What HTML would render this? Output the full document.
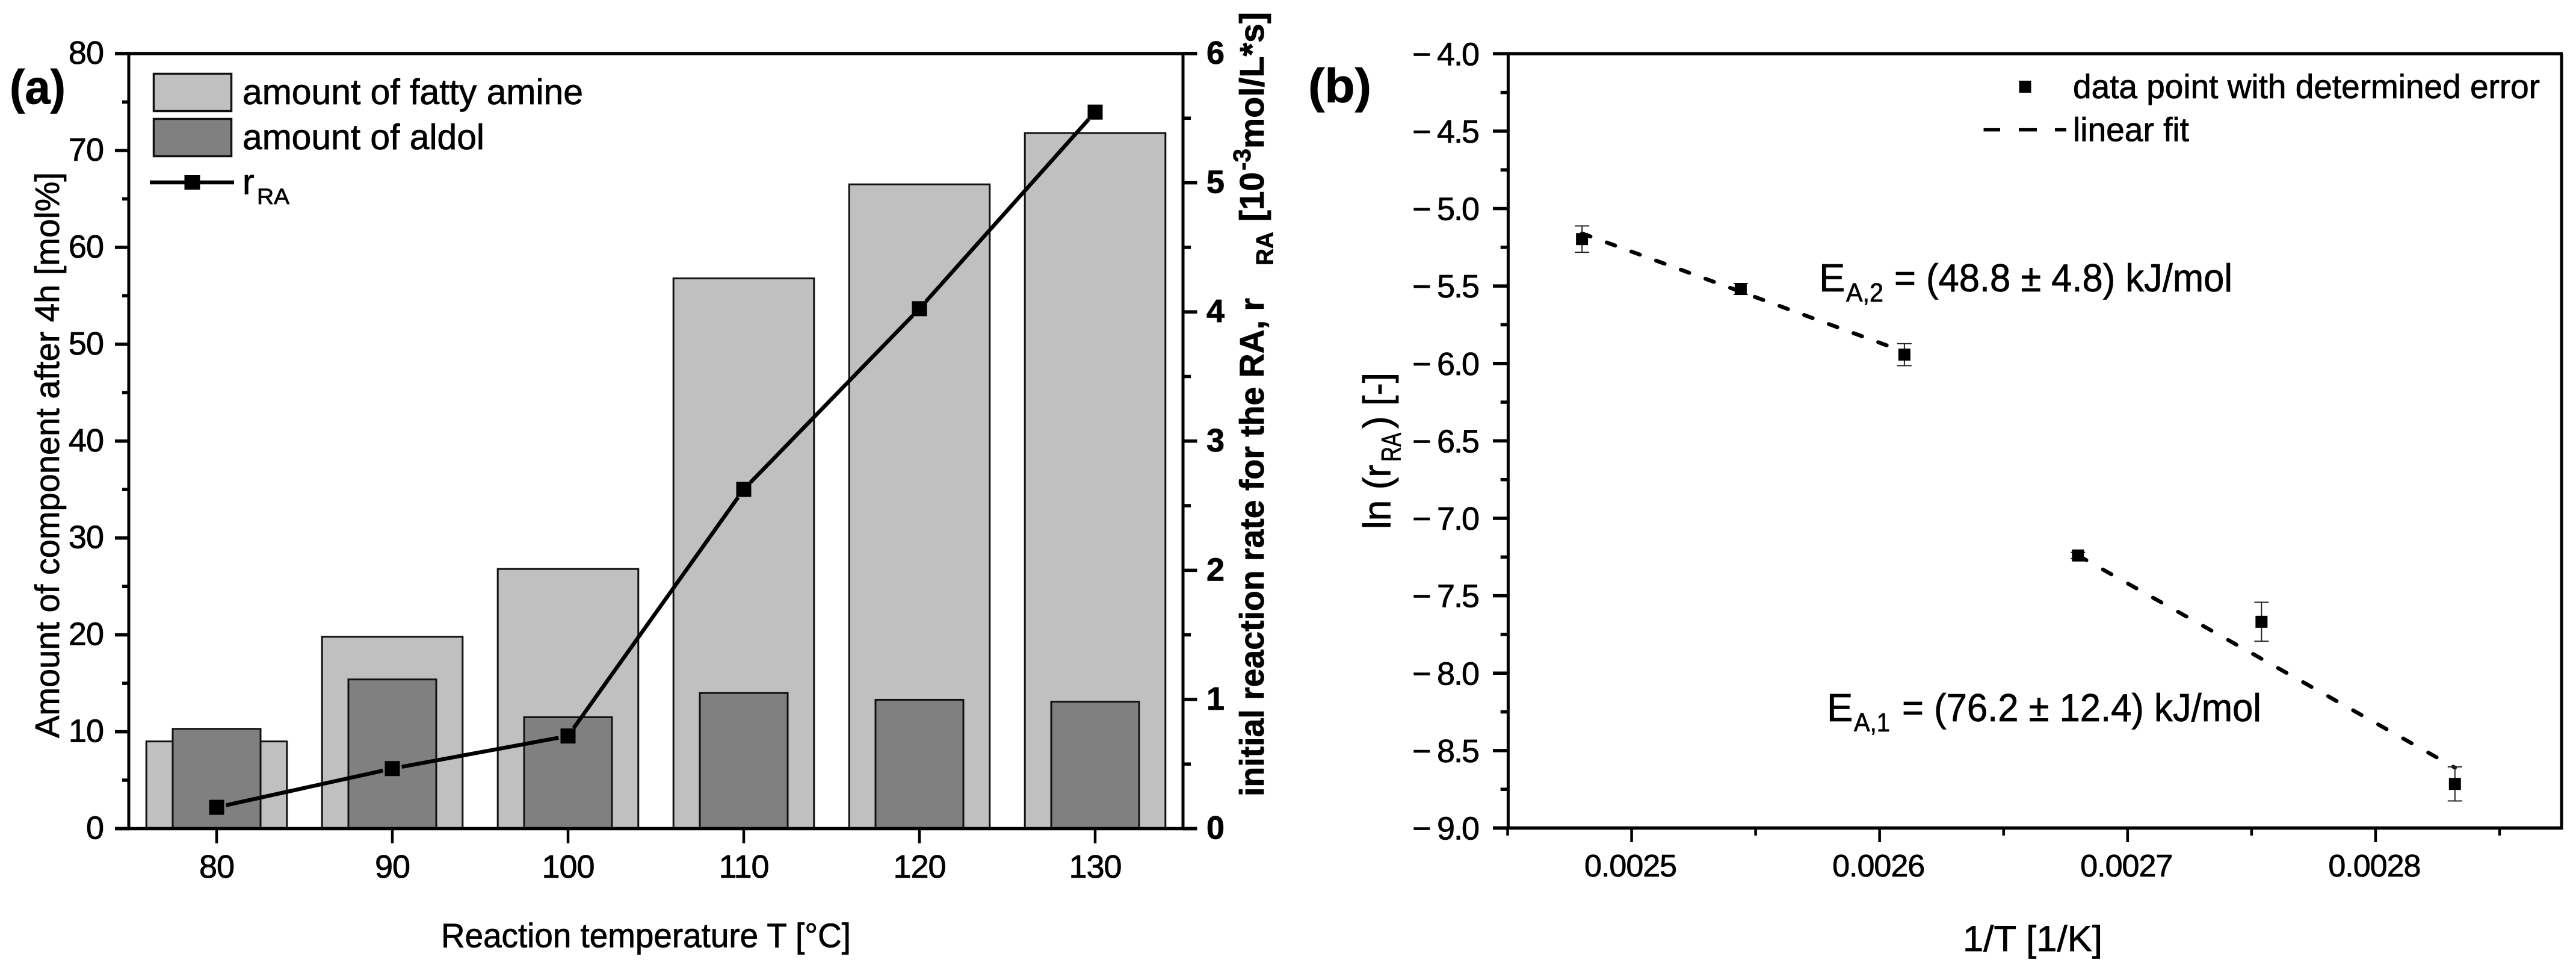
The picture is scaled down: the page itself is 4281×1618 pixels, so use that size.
<!DOCTYPE html>
<html lang="en">
<head>
<meta charset="utf-8">
<title>Fatty amine reaction rate and Arrhenius plot</title>
<style>
  html, body { margin: 0; padding: 0; background: #fff; }
  svg { display: block; }
  text { font-family: "Liberation Sans", Arial, sans-serif; fill: #000; stroke: #000; stroke-width: 0.8px; }
</style>
</head>
<body>
<svg id="figure" xmlns="http://www.w3.org/2000/svg" width="4281" height="1618" viewBox="0 0 4281 1618">
  <rect width="4281" height="1618" fill="#fff"/>

  <!-- Panel (a) -->
  <g id="panel-a">
    <text x="16" y="172" font-size="80" font-weight="bold" textLength="93" lengthAdjust="spacingAndGlyphs">(a)</text>
    <g id="a-bars"></g>
    <g id="a-axes"></g>
    <g id="a-line"></g>

    <text transform="translate(98,1226) rotate(-90)" font-size="57" textLength="940" lengthAdjust="spacingAndGlyphs">Amount of component after 4h [mol%]</text>
    <text x="733" y="1573.5" font-size="57" textLength="681" lengthAdjust="spacingAndGlyphs">Reaction temperature T [°C]</text>

    <g font-weight="bold">
      <text transform="translate(2100,1323) rotate(-90)" font-size="57" textLength="828" lengthAdjust="spacingAndGlyphs">initial reaction rate for the RA, r</text>
      <text transform="translate(2115.7,441) rotate(-90)" font-size="40" textLength="56" lengthAdjust="spacingAndGlyphs">RA</text>
      <text transform="translate(2100,368) rotate(-90)" font-size="57" textLength="82" lengthAdjust="spacingAndGlyphs">[10</text>
      <text transform="translate(2078,283) rotate(-90)" font-size="41" textLength="36" lengthAdjust="spacingAndGlyphs">-3</text>
      <text transform="translate(2100,247) rotate(-90)" font-size="57" textLength="227" lengthAdjust="spacingAndGlyphs">mol/L*s]</text>
    </g>

    <g>
      <g>
        <rect x="255.5" y="122.5" width="129" height="62" fill="#c0c0c0" stroke="#111" stroke-width="3.5"/>
        <text x="403" y="173" font-size="59" textLength="566" lengthAdjust="spacingAndGlyphs">amount of fatty amine</text>
      </g>
      <g>
        <rect x="255.5" y="197.5" width="129" height="62" fill="#808080" stroke="#111" stroke-width="3.5"/>
        <text x="403" y="248" font-size="59" textLength="402" lengthAdjust="spacingAndGlyphs">amount of aldol</text>
      </g>
      <g>
        <line x1="249" y1="303" x2="389" y2="303" stroke="#000" stroke-width="6.5"/>
        <rect x="306.5" y="291" width="26" height="24" fill="#000"/>
        <text x="403" y="322.7" font-size="59">r</text>
        <text x="427" y="339" font-size="37" textLength="54" lengthAdjust="spacingAndGlyphs">RA</text>
      </g>
    </g>
  </g>

  <!-- Panel (b) -->
  <g id="panel-b">
    <text x="2174" y="170" font-size="80" font-weight="bold" textLength="105" lengthAdjust="spacingAndGlyphs">(b)</text>
    <g id="b-axes"></g>
    <g id="b-fits"></g>
    <g id="b-points"></g>

    <g>
      <text transform="translate(2310.7,879) rotate(-90)" font-size="64" textLength="107" lengthAdjust="spacingAndGlyphs">ln (r</text>
      <text transform="translate(2327.7,767) rotate(-90)" font-size="45" textLength="48" lengthAdjust="spacingAndGlyphs">RA</text>
      <text transform="translate(2310.7,712) rotate(-90)" font-size="64" textLength="93" lengthAdjust="spacingAndGlyphs">) [-]</text>
    </g>
    <text x="3262" y="1580" font-size="60" textLength="232" lengthAdjust="spacingAndGlyphs">1/T [1/K]</text>

    <g>
      <g>
        <rect x="3355.5" y="134" width="20" height="20" fill="#000"/>
        <text x="3445" y="163" font-size="56" textLength="776" lengthAdjust="spacingAndGlyphs">data point with determined error</text>
      </g>
      <g>
        <path d="M3296.5 215.6H3324M3355 215.6H3385M3415 215.6H3434" stroke="#000" stroke-width="5.5" fill="none"/>
        <text x="3445" y="234.4" font-size="56" textLength="193" lengthAdjust="spacingAndGlyphs">linear fit</text>
      </g>
    </g>

    <g>
      <text x="3023" y="484" font-size="65">E</text>
      <text x="3068" y="501" font-size="44" textLength="62" lengthAdjust="spacingAndGlyphs">A,2</text>
      <text x="3148" y="484" font-size="65" textLength="562" lengthAdjust="spacingAndGlyphs">= (48.8 ± 4.8) kJ/mol</text>
    </g>
    <g>
      <text x="3036" y="1198" font-size="65">E</text>
      <text x="3081" y="1215" font-size="44" textLength="60" lengthAdjust="spacingAndGlyphs">A,1</text>
      <text x="3161" y="1198" font-size="65" textLength="597" lengthAdjust="spacingAndGlyphs">= (76.2 ± 12.4) kJ/mol</text>
    </g>
  </g>

<script>
/* ---------- Panel (a) data ---------- */
const temperatureCategories = [80, 90, 100, 110, 120, 130];
const fattyAmineAmount = [9.0, 19.8, 26.8, 56.8, 66.5, 71.8];
const aldolAmount = [10.3, 15.4, 11.5, 14.0, 13.3, 13.1];
const reactionRate = [0.165, 0.465, 0.717, 2.626, 4.025, 5.547];
const leftTickLabels = [0, 10, 20, 30, 40, 50, 60, 70, 80];
const leftMinorTicks = [5, 15, 25, 35, 45, 55, 65, 75];
const rightTickLabels = [0, 1, 2, 3, 4, 5, 6];
const rightMinorTicks = [0.5, 1.5, 2.5, 3.5, 4.5, 5.5];

/* ---------- Panel (b) data ---------- */
const inverseTemperature = [0.002480, 0.002544, 0.002610, 0.002680, 0.002754, 0.002832];
const lnRate = [-5.197, -5.519, -5.943, -7.24, -7.668, -8.715];
const lnRateError = [0.085, 0.035, 0.071, 0.02, 0.126, 0.11];
const fitHighTempX = [0.002480, 0.002610];
const fitHighTempY = [-5.16, -5.925];
const fitLowTempX = [0.002680, 0.002832];
const fitLowTempY = [-7.24, -8.61];
const bYTickLabels = [-4.0, -4.5, -5.0, -5.5, -6.0, -6.5, -7.0, -7.5, -8.0, -8.5, -9.0];
const bYMinorTicks = [-4.25, -4.75, -5.25, -5.75, -6.25, -6.75, -7.25, -7.75, -8.25, -8.75];
const bXTickLabels = ["0.0025", "0.0026", "0.0027", "0.0028"];
const bXMinorTicks = [0.00245, 0.00255, 0.00265, 0.00275, 0.00285];

/* ---------- Axis functions ---------- */
function xTemp(t) { return 214 + (t - 75) / 60 * 1752; }
function yAmount(v) { return 1376.5 - v / 80 * 1287.5; }
function yRate(v) { return 1376.5 - v / 6 * 1287.5; }
function xInv(v) { return 2505.5 + (v - 0.00245) / 0.000425 * 1751.5; }
function yLn(v) { return 89.3 + (-4 - v) / 5 * 1286.2; }

const SVG_NS = "http://www.w3.org/2000/svg";
function make(tag, attrs, parent) {
  const node = document.createElementNS(SVG_NS, tag);
  for (const key in attrs) node.setAttribute(key, attrs[key]);
  parent.appendChild(node);
  return node;
}

/* ---------- Panel (a) bars ---------- */
const aBars = document.getElementById("a-bars");
temperatureCategories.forEach(function (t, i) {
  const halfLight = (xTemp(84) - xTemp(80));
  const lightTop = yAmount(fattyAmineAmount[i]);
  const light = make("rect", { x: xTemp(t) - halfLight, y: lightTop, width: halfLight * 2, height: yAmount(0) - lightTop, fill: "#c0c0c0", stroke: "#111", "stroke-width": 3 }, aBars);
  
  
});
temperatureCategories.forEach(function (t, i) {
  const halfDark = (xTemp(82.5) - xTemp(80));
  const darkTop = yAmount(aldolAmount[i]);
  const dark = make("rect", { x: xTemp(t) - halfDark, y: darkTop, width: halfDark * 2, height: yAmount(0) - darkTop, fill: "#808080", stroke: "#111", "stroke-width": 3 }, aBars);
  
  
});

/* ---------- Panel (a) axes ---------- */
const aAxes = document.getElementById("a-axes");
const aFrame = make("path", { d: "M191 89H1989.5M191 1376.5H1989.5", stroke: "#000", "stroke-width": 5.5, fill: "none" }, aAxes);


const aSides = make("path", { d: "M214 89V1376.5M1966 89V1376.5", stroke: "#000", "stroke-width": 5, fill: "none" }, aAxes);



leftTickLabels.forEach(function (v) {
  const y = yAmount(v);
  const tick = make("line", { x1: 191, x2: 214, y1: y, y2: y, stroke: "#000", "stroke-width": 5.5 }, aAxes);
  
  
  const label = make("text", { x: 172, y: y + 17, "font-size": 54, "text-anchor": "end", "letter-spacing": -1 }, aAxes);
  label.textContent = v;
  
  
});
leftMinorTicks.forEach(function (v) {
  const y = yAmount(v);
  const tick = make("line", { x1: 203, x2: 214, y1: y, y2: y, stroke: "#000", "stroke-width": 5.5 }, aAxes);
  
  
});
rightTickLabels.forEach(function (v) {
  const y = yRate(v);
  const tick = make("line", { x1: 1966, x2: 1989.5, y1: y, y2: y, stroke: "#000", "stroke-width": 5.5 }, aAxes);
  
  
  const label = make("text", { x: 2005, y: y + 17, "font-size": 54, "font-weight": "bold" }, aAxes);
  label.textContent = v;
  
  
});
rightMinorTicks.forEach(function (v) {
  const y = yRate(v);
  const tick = make("line", { x1: 1966, x2: 1979, y1: y, y2: y, stroke: "#000", "stroke-width": 5.5 }, aAxes);
  
  
});
temperatureCategories.forEach(function (t) {
  const x = xTemp(t);
  const tick = make("line", { x1: x, x2: x, y1: 1376.5, y2: 1401, stroke: "#000", "stroke-width": 4.5 }, aAxes);
  
  
  const label = make("text", { x: x, y: 1458, "font-size": 54, "text-anchor": "middle", "letter-spacing": -1 }, aAxes);
  label.textContent = t;
  
  
});

/* ---------- Panel (a) rate line ---------- */
const aLine = document.getElementById("a-line");
const markerGap = 16;
temperatureCategories.forEach(function (t, i) {
  if (i === 0) return;
  const x1 = xTemp(temperatureCategories[i - 1]), y1 = yRate(reactionRate[i - 1]);
  const x2 = xTemp(t), y2 = yRate(reactionRate[i]);
  const len = Math.hypot(x2 - x1, y2 - y1);
  const ux = (x2 - x1) / len, uy = (y2 - y1) / len;
  const seg = make("line", { x1: x1 + ux * markerGap, y1: y1 + uy * markerGap, x2: x2 - ux * markerGap, y2: y2 - uy * markerGap, stroke: "#000", "stroke-width": 6.5 }, aLine);
  
  
});
temperatureCategories.forEach(function (t, i) {
  const marker = make("rect", { x: xTemp(t) - 12.5, y: yRate(reactionRate[i]) - 12.5, width: 25, height: 25, fill: "#000" }, aLine);
  
  
});

/* ---------- Panel (b) axes ---------- */
const bAxes = document.getElementById("b-axes");
const bFrameH = make("path", { d: "M2481 89.3H4259M2481 1375.5H4259", stroke: "#000", "stroke-width": 5.5, fill: "none" }, bAxes);


const bFrameV = make("path", { d: "M2506.4 89.3V1375.5M4257 89.3V1378", stroke: "#000", "stroke-width": 5, fill: "none" }, bAxes);



bYTickLabels.forEach(function (v) {
  const y = yLn(v);
  const tick = make("line", { x1: 2481, x2: 2506, y1: y, y2: y, stroke: "#000", "stroke-width": 5.5 }, bAxes);
  
  
  const label = make("text", { y: y + 19, "font-size": 54 }, bAxes);
  
  
  const minus = make("tspan", { x: 2347 }, label);
  minus.textContent = "\u2212";
  const digits = make("tspan", { x: 2388, "letter-spacing": -2 }, label);
  digits.textContent = Math.abs(v).toFixed(1);
});
bYMinorTicks.forEach(function (v) {
  const y = yLn(v);
  const tick = make("line", { x1: 2493.7, x2: 2506, y1: y, y2: y, stroke: "#000", "stroke-width": 5.5 }, bAxes);
  
  
});
bXTickLabels.forEach(function (s) {
  const x = xInv(parseFloat(s));
  const tick = make("line", { x1: x, x2: x, y1: 1375.5, y2: 1399, stroke: "#000", "stroke-width": 4.5 }, bAxes);
  
  
  const label = make("text", { x: x - 2, y: 1456, "font-size": 52, "text-anchor": "middle", "letter-spacing": -1 }, bAxes);
  label.textContent = s;
  
  
});
bXMinorTicks.forEach(function (v) {
  const x = xInv(v);
  const tick = make("line", { x1: x, x2: x, y1: 1375.5, y2: 1388, stroke: "#000", "stroke-width": 4.5 }, bAxes);
  
  
});

/* ---------- Panel (b) fits ---------- */
const bFits = document.getElementById("b-fits");
const fitHigh = make("line", { x1: xInv(fitHighTempX[0]), y1: yLn(fitHighTempY[0]), x2: xInv(fitHighTempX[1]), y2: yLn(fitHighTempY[1]), stroke: "#000", "stroke-width": 6.5, "stroke-dasharray": "15 28.7", "stroke-linecap": "round" }, bFits);


const fitLow = make("line", { x1: xInv(fitLowTempX[0]), y1: yLn(fitLowTempY[0]), x2: xInv(fitLowTempX[1]), y2: yLn(fitLowTempY[1]), stroke: "#000", "stroke-width": 6.5, "stroke-dasharray": "16 31.7", "stroke-linecap": "round" }, bFits);



/* ---------- Panel (b) points ---------- */
const bPoints = document.getElementById("b-points");
inverseTemperature.forEach(function (v, i) {
  const x = xInv(v), y = yLn(lnRate[i]);
  const top = yLn(lnRate[i] + lnRateError[i]);
  const bottom = yLn(lnRate[i] - lnRateError[i]);
  const bar = make("path", { d: "M" + (x - 12) + " " + top + "H" + (x + 12) + "M" + x + " " + top + "V" + bottom + "M" + (x - 12) + " " + bottom + "H" + (x + 12), stroke: "#222", "stroke-width": 2, fill: "none" }, bPoints);
  
  
  const marker = make("rect", { x: x - 10, y: y - 10, width: 20, height: 20, fill: "#000" }, bPoints);
  
  
});
</script>
</svg>
</body>
</html>
